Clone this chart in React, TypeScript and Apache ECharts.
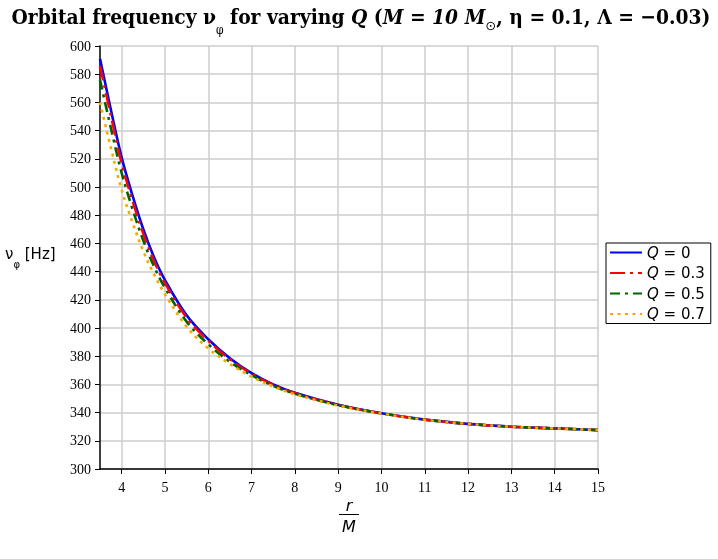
import React, { useEffect, useRef } from 'react';
import * as echarts from 'echarts';

const R_OVER_M = [3.5, 3.75, 4, 4.25, 4.5, 4.75, 5, 5.5, 6, 6.5, 7, 7.5, 8, 9, 10, 11, 12, 13, 14, 15];
const NU_Q0 = [591, 555, 521, 494, 470, 450, 434, 409, 392, 378.5, 368, 360, 354, 345.5, 339.5, 335, 332, 330, 328.8, 327.6];
const NU_Q03 = [586, 551, 517, 490.5, 467, 447.5, 432, 407.5, 391, 377.9, 367.6, 359.8, 353.9, 345.4, 339.5, 335, 332, 330, 328.8, 327.6];
const NU_Q05 = [576, 542, 510, 484.5, 462, 443.5, 428.5, 404.5, 388.5, 376, 366.5, 359, 353.4, 345.2, 339.4, 335, 332, 330, 328.8, 327.6];
const NU_Q07 = [560, 528, 498, 475, 454.5, 438, 424, 401, 385.5, 374.5, 365.5, 358.5, 353, 345, 339.3, 334.9, 332, 330, 328.8, 327.6];
const Q_LABELS = ['0', '0.3', '0.5', '0.7'];
const X_TICKS = [4, 5, 6, 7, 8, 9, 10, 11, 12, 13, 14, 15];

const SERIES_VALUES = [NU_Q0, NU_Q03, NU_Q05, NU_Q07];
const COLORS = ['#0000ff', '#ff0000', '#006400', '#ffa500'];
const DASHES: any[] = ['solid', [15, 5, 3, 5], [10, 5, 3, 5], [3, 4.5]];

const SERIF_T = '"DejaVu Serif Condensed", "DejaVu Serif", serif';
const SANS = '"DejaVu Sans", sans-serif';
const TNR = '"Liberation Serif", serif';

type Piece = { t: string; size: number; weight: string; style: string; dy: number; family: string };

function measure(p: Piece): number {
  const c = document.createElement('canvas').getContext('2d')!;
  c.font = `${p.style} ${p.weight} ${p.size}px ${p.family}`;
  return c.measureText(p.t).width;
}

function layoutPieces(pieces: Piece[], x0: number, y: number, align: 'left' | 'center') {
  const widths = pieces.map(measure);
  const total = widths.reduce((a, b) => a + b, 0);
  let x = align === 'center' ? x0 - total / 2 : x0;
  return pieces.map((p, i) => {
    const el = {
      type: 'text',
      x,
      y: y + p.dy,
      silent: true,
      style: {
        text: p.t,
        fontSize: p.size,
        fontWeight: p.weight,
        fontStyle: p.style,
        fontFamily: p.family,
        fill: '#000',
        align: 'left',
        verticalAlign: 'middle',
      },
    };
    x += widths[i];
    return el;
  });
}

export default function App() {
  const ref = useRef<HTMLDivElement>(null);
  useEffect(() => {
    document.body.style.margin = '0';
    const chart = echarts.init(ref.current!, undefined, { renderer: 'svg' });

    const TS = 20.8;
    const titlePieces: Piece[] = [
      { t: 'Orbital frequency ν', size: TS, weight: 'bold', style: 'normal', dy: 0, family: SERIF_T },
      { t: 'φ', size: 12, weight: 'normal', style: 'normal', dy: 14, family: SERIF_T },
      { t: ' for varying ', size: TS, weight: 'bold', style: 'normal', dy: 0, family: SERIF_T },
      { t: 'Q', size: TS, weight: 'bold', style: 'italic', dy: 0, family: SERIF_T },
      { t: ' (', size: TS, weight: 'bold', style: 'normal', dy: 0, family: SERIF_T },
      { t: 'M = 10 M', size: TS, weight: 'bold', style: 'italic', dy: 0, family: SERIF_T },
      { t: '⊙', size: 13, weight: 'normal', style: 'italic', dy: 9, family: SANS },
      { t: ', η = 0.1, Λ = −0.03)', size: TS, weight: 'bold', style: 'normal', dy: 0, family: SERIF_T },
    ];
    const yNamePieces: Piece[] = [
      { t: 'ν', size: 15, weight: 'normal', style: 'normal', dy: 0, family: SANS },
      { t: 'φ', size: 10, weight: 'normal', style: 'normal', dy: 10, family: SANS },
      { t: ' [Hz]', size: 15, weight: 'normal', style: 'normal', dy: 0, family: SANS },
    ];

    const graphic: any[] = [
      ...layoutPieces(titlePieces, 361, 16, 'center'),
      ...layoutPieces(yNamePieces, 5, 254, 'left'),
      {
        type: 'text', x: 349, y: 505, silent: true,
        style: { text: 'r', fontSize: 16, fontStyle: 'italic', fontFamily: SANS, fill: '#000', align: 'center', verticalAlign: 'middle' },
      },
      {
        type: 'line', silent: true,
        shape: { x1: 339, y1: 514.5, x2: 359, y2: 514.5 },
        style: { stroke: '#000', lineWidth: 1 },
      },
      {
        type: 'text', x: 349, y: 526, silent: true,
        style: { text: 'M', fontSize: 16, fontStyle: 'italic', fontFamily: SANS, fill: '#000', align: 'center', verticalAlign: 'middle' },
      },
    ];

    const series = SERIES_VALUES.map((vals, i) => ({
      name: 'Q = ' + Q_LABELS[i],
      type: 'line',
      data: R_OVER_M.map((r, j) => [r, vals[j]]),
      smooth: 0.35,
      showSymbol: false,
      symbol: 'none',
      lineStyle: { color: COLORS[i], width: 2.6, type: DASHES[i] },
      itemStyle: { color: COLORS[i] },
      z: 2 + i,
    }));

    chart.setOption({
      animation: false,
      grid: { left: 100, right: 120, top: 46, bottom: 90, containLabel: false },
      xAxis: {
        type: 'value',
        min: 3.5,
        max: 15,
        axisLine: { show: true, onZero: false, lineStyle: { color: '#000', width: 1.5 } },
        axisTick: { show: true, customValues: X_TICKS, length: 5, lineStyle: { color: '#000' } },
        axisLabel: { customValues: X_TICKS, color: '#000', fontFamily: TNR, fontSize: 14, margin: 11 },
        splitLine: { show: true, lineStyle: { color: '#cccccc', width: 1.5 } },
      },
      yAxis: {
        type: 'value',
        min: 300,
        max: 600,
        interval: 20,
        axisLine: { show: true, lineStyle: { color: '#000', width: 1.5 } },
        axisTick: { show: true, length: 5, lineStyle: { color: '#000' } },
        axisLabel: { color: '#000', fontFamily: TNR, fontSize: 14, margin: 9 },
        splitLine: { show: true, lineStyle: { color: '#cccccc', width: 1.5 } },
      },
      legend: {
        orient: 'vertical',
        left: 606,
        top: 243,
        itemWidth: 32,
        itemHeight: 16,
        itemGap: 5.5,
        padding: [2, 6, 2, 3],
        borderColor: '#000',
        borderWidth: 1,
        borderRadius: 0,
        itemStyle: { opacity: 0 },
        data: SERIES_VALUES.map((_, i) => 'Q = ' + Q_LABELS[i]),
        formatter: (name: string) => '{i|Q}{t|' + name.slice(1) + '}',
        textStyle: {
          rich: {
            i: { fontFamily: SANS, fontSize: 15, fontStyle: 'italic', color: '#000' },
            t: { fontFamily: SANS, fontSize: 15, color: '#000' },
          },
        },
      },
      series,
      graphic,
    });
    return () => chart.dispose();
  }, []);
  return <div ref={ref} style={{ width: 718, height: 559, position: 'fixed', left: 0, top: 0 }} />;
}
